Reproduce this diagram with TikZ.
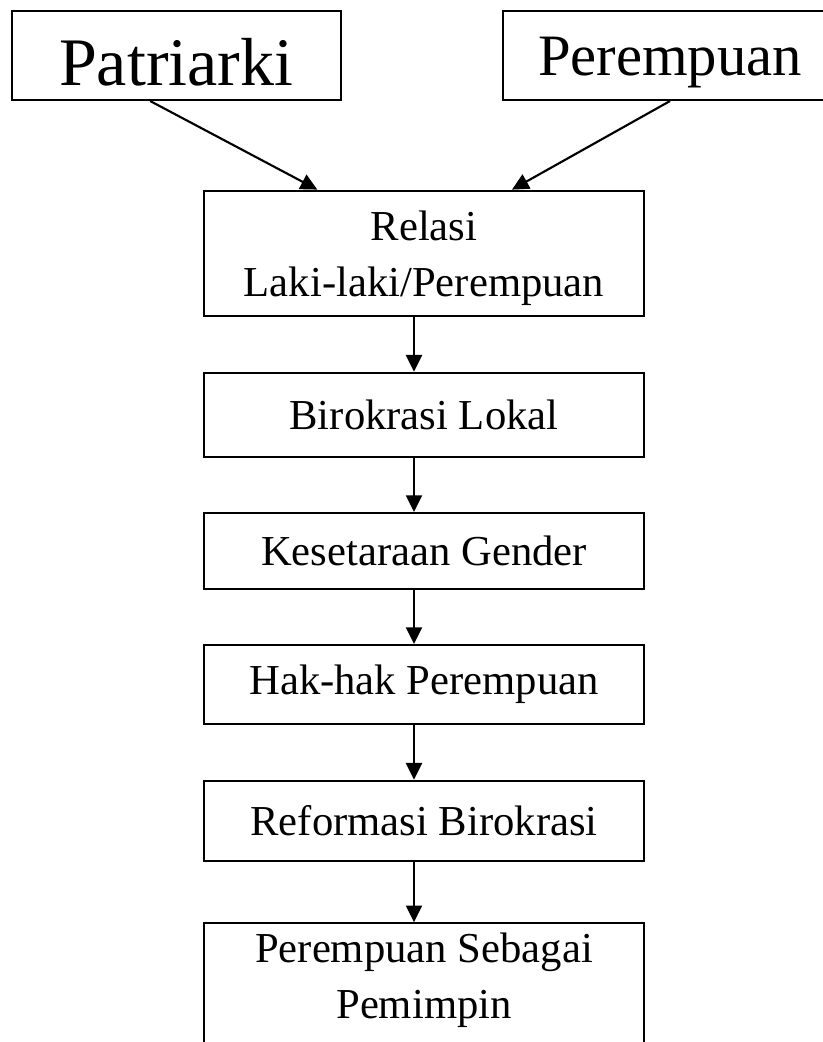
\documentclass[tikz,border=0pt]{standalone}
\usepackage{fontspec}
\setmainfont{Liberation Serif}
\usetikzlibrary{arrows.meta}

\tikzset{every picture/.style={line width=1.6pt}}
\tikzset{
  box/.style={draw, rectangle, minimum width=330pt, align=center, inner sep=0pt,
    font=\fontsize{32}{42}\selectfont},
  flow/.style={-{Triangle[length=12.5pt,width=12pt]}, line width=1.6pt}
}

\begin{document}
\begin{tikzpicture}[x=0.75pt,y=0.75pt,yscale=-1,xscale=1]
\useasboundingbox (0,0) rectangle (823,1042); %set diagram as large as the reference

%Shape: Rectangle [patriarki]
\node [box, minimum width=246.8pt, minimum height=67pt, text height=45pt, text depth=0pt,
  font=\fontsize{51}{60}\selectfont] (pat) at (176.2,55.3) {Patriarki};
%Shape: Rectangle [perempuan]
\node [box, minimum width=250.5pt, minimum height=67pt, text height=30pt, text depth=0pt,
  font=\fontsize{44}{52}\selectfont] (prp) at (670,55.3) {Perempuan};

%Shape: Rectangle [relasi]
\node [box, minimum height=94pt, text depth=0pt] (rel) at (424,253.35) {Relasi\\Laki-laki/Perempuan};
%Shape: Rectangle [birokrasi]
\node [box, minimum height=63pt] (bir) at (424,414.7) {Birokrasi Lokal};
%Shape: Rectangle [kesetaraan]
\node [box, minimum height=56.8pt] (kes) at (424,550.85) {Kesetaraan Gender};
%Shape: Rectangle [hak-hak]
\node [box, minimum height=59.5pt] (hak) at (424,684.65) {Hak-hak Perempuan};
%Shape: Rectangle [reformasi]
\node [box, minimum height=60.2pt] (ref) at (424,820.85) {Reformasi Birokrasi};
%Shape: Rectangle [pemimpin]
\node [box, minimum height=120pt, text depth=41.5pt] (pem) at (424,1003.3) {Perempuan Sebagai\\Pemimpin};

%Straight Lines
\draw [flow] ([xshift=-19.5pt]pat.south) -- ([xshift=-80pt]rel.north);
\draw [flow] (prp.south) -- ([xshift=66pt]rel.north);
\draw [flow] ([xshift=-7.5pt]rel.south) -- ([xshift=-7.5pt]bir.north);
\draw [flow] ([xshift=-7.5pt]bir.south) -- ([xshift=-7.5pt]kes.north);
\draw [flow] ([xshift=-7.5pt]kes.south) -- ([xshift=-7.5pt]hak.north);
\draw [flow] ([xshift=-7.5pt]hak.south) -- ([xshift=-7.5pt]ref.north);
\draw [flow] ([xshift=-7.5pt]ref.south) -- ([xshift=-7.5pt]pem.north);

\end{tikzpicture}
\end{document}
